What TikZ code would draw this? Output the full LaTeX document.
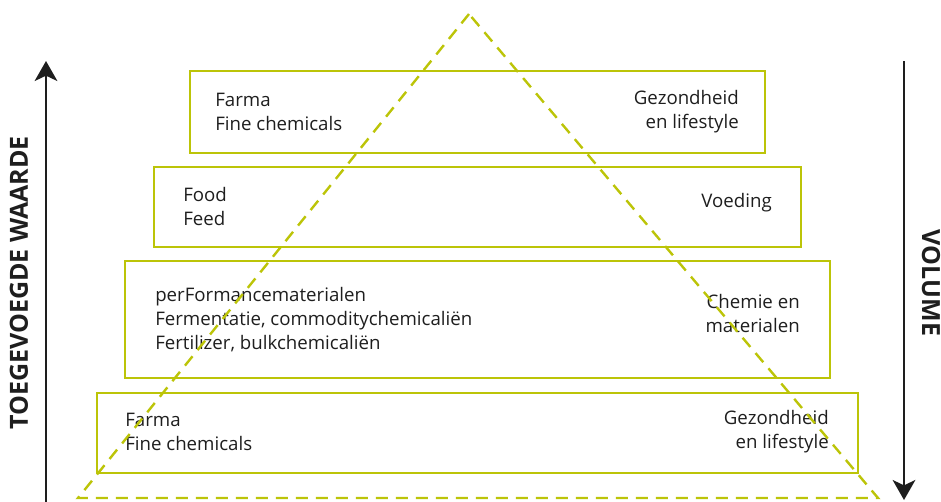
\documentclass[tikz,border=0pt]{standalone}
\usepackage{fontspec}
\setmainfont{Open Sans}
\usetikzlibrary{arrows.meta,positioning}
\definecolor{limegreen}{RGB}{188,196,8}
\definecolor{darkink}{RGB}{30,30,30}

\begin{document}
\begin{tikzpicture}[x=0.75pt,y=-0.75pt]
    % Define styles
    \tikzstyle{layer} = [rectangle, draw=limegreen, line width=2.2pt, inner sep=0pt]
    \tikzstyle{txt} = [inner sep=0pt, text=darkink, font=\fontsize{14}{18}\selectfont]
    \tikzstyle{axislabel} = [inner sep=0pt, text=darkink, font=\fontsize{18.75}{22}\selectfont\bfseries]
    \tikzstyle{axis} = [line width=1.6pt, draw=darkink, -{Stealth[length=15pt,width=17pt,inset=4pt]}]
    \tikzstyle{pyramid} = [draw=limegreen, line width=1.8pt, dash pattern=on 9pt off 6pt]

    \useasboundingbox (0,0) rectangle (941,501);

    % Layers
    \node[layer, minimum width=431.25pt, minimum height=61.5pt] (layer1) at (477.5,112) {};
    \node[layer, minimum width=485.25pt, minimum height=60pt] (layer2) at (477.5,207) {};
    \node[layer, minimum width=528.75pt, minimum height=87.75pt] (layer3) at (477.5,319.5) {};
    \node[layer, minimum width=570.75pt, minimum height=60pt] (layer4) at (477.5,433) {};

    % Layer texts
    \node[txt, anchor=west, align=left] (sector1) at (215,112) {Farma\\Fine chemicals};
    \node[txt, anchor=east, align=right] (market1) at (739,112) {Gezondheid\\en lifestyle};
    \node[txt, anchor=west, align=left] (sector2) at (183,206) {Food\\Feed};
    \node[txt, anchor=east, align=right] (market2) at (772,203) {Voeding};
    \node[txt, anchor=west, align=left] (sector3) at (155,320) {perFormancematerialen\\Fermentatie, commoditychemicaliën\\Fertilizer, bulkchemicaliën};
    \node[txt, anchor=east, align=right] (market3) at (800,313) {Chemie en\\materialen};
    \node[txt, anchor=west, align=left] (sector4) at (125,432) {Farma\\Fine chemicals};
    \node[txt, anchor=east, align=right] (market4) at (829,432) {Gezondheid\\en lifestyle};

    % Pyramid
    \coordinate (apex) at (469,14);
    \coordinate (baseleft) at (78,498);
    \coordinate (baseright) at (878,498);
    \draw[pyramid] (apex) -- (baseleft) -- (baseright) -- cycle;

    % Axes
    \coordinate (valuebot) at (46,502);
    \coordinate (valuetop) at (46,61);
    \coordinate (voltop) at (904,61);
    \coordinate (volbot) at (904,500);
    \draw[axis] (valuebot) -- (valuetop);
    \draw[axis] (voltop) -- (volbot);

    \node[axislabel, rotate=90] (value) at (19,283) {TOEGEVOEGDE WAARDE};
    \node[axislabel, rotate=-90] (volume) at (931,283) {VOLUME};

\end{tikzpicture}
\end{document}
